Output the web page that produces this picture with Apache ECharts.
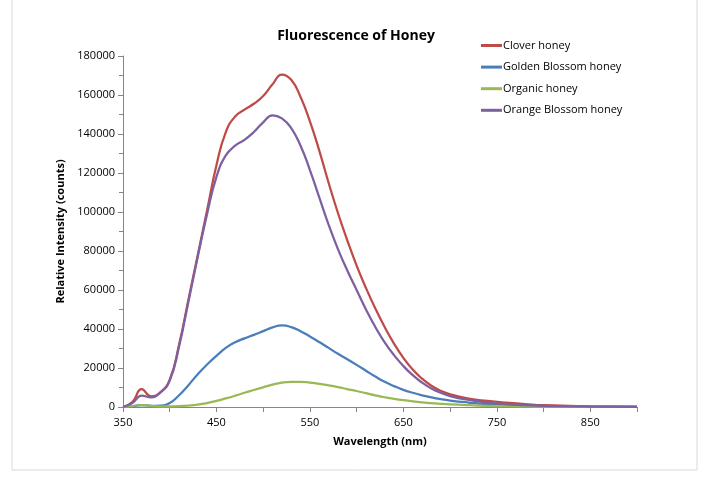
<!DOCTYPE html>
<html>
<head>
<meta charset="utf-8">
<script src="https://cdn.jsdelivr.net/npm/echarts@6/dist/echarts.min.js"></script>
<style>html,body{margin:0;padding:0;background:#fff;}#c{width:709px;height:478px;}</style>
</head>
<body>
<div id="c"></div>
<script>
const seriesNames = ['Clover honey', 'Golden Blossom honey', 'Organic honey', 'Orange Blossom honey'];
const seriesColors = ['#BE4B48', '#4A7EBB', '#98B954', '#7D60A0'];

const wavelengths = [350,360,370,380,390,400,410,420,430,440,450,460,470,480,490,500,510,520,530,540,550,560,570,580,590,600,610,620,630,640,650,660,670,680,690,700,720,740,760,780,800,850,900];
const clover  = [0,2500,9200,5500,7500,14000,32000,55000,78000,101000,124000,141000,149000,152500,155500,159500,165500,170500,167800,159000,146500,131500,115000,99500,85500,72500,61000,50500,41000,32500,25200,19200,14500,10900,8300,6500,4300,3100,2200,1500,900,400,200];
const golden  = [0,300,1000,600,700,2000,6000,11200,16800,21800,26200,30300,33200,35200,37000,38900,40800,41800,41000,38900,36200,33300,30300,27300,24500,21600,18600,15600,12900,10700,8800,7300,6000,4900,4000,3300,2300,1500,1000,700,500,250,100];
const organic = [0,500,1000,600,300,300,400,700,1200,2000,3100,4400,5800,7300,8700,10100,11500,12500,12900,12900,12500,11900,11100,10200,9200,8200,7100,6000,5000,4200,3500,2900,2400,2000,1600,1300,900,600,400,300,200,100,50];
const orange  = [0,2000,5800,5000,7500,13500,31000,54000,77000,99000,118000,129000,134000,137000,141000,146000,149600,148000,143000,134000,121500,107500,93500,81000,70000,60000,50000,41000,33200,26600,21000,16300,12500,9500,7300,5600,3600,2300,1500,1000,600,250,100];
const seriesValues = [clover, golden, organic, orange];

const font = '"Open Sans", "Liberation Sans", sans-serif';
const chart = echarts.init(document.getElementById('c'));
chart.setOption({
  animation: false,
  backgroundColor: '#fff',
  title: {
    text: 'Fluorescence of Honey', left: 351, top: 24, textAlign: 'center',
    textStyle: { fontFamily: font, fontSize: 14, fontWeight: 'bold', color: '#000' }
  },
  graphic: [{
    type: 'rect', shape: { x: 12, y: -5, width: 685, height: 475 },
    style: { fill: 'none', stroke: '#d9d9d9', lineWidth: 1 }, silent: true
  }],
  legend: {
    orient: 'vertical', left: 476, top: 33, itemWidth: 21, itemHeight: 3, itemGap: 6.6,
    icon: 'rect',
    textStyle: { fontFamily: font, fontSize: 11, color: '#000', padding: [0, 0, 0, -4], lineHeight: 15 },
    data: seriesNames
  },
  grid: { left: 123, right: 72, top: 56, bottom: 71 },
  xAxis: {
    type: 'value', min: 350, max: 900, interval: 100,
    name: 'Wavelength (nm)', nameLocation: 'middle', nameGap: 29,
    nameTextStyle: { fontFamily: font, fontSize: 11, fontWeight: 'bold', color: '#000' },
    axisLine: { show: true, lineStyle: { color: '#868686' } },
    axisTick: { show: true, length: 5, lineStyle: { color: '#868686' } },
    minorTick: { show: true, splitNumber: 2, length: 5, lineStyle: { color: '#868686' } },
    splitLine: { show: false },
    axisLabel: { fontFamily: font, fontSize: 11, color: '#000', margin: 10, showMaxLabel: false }
  },
  yAxis: {
    type: 'value', min: 0, max: 180000, interval: 20000,
    name: 'Relative Intensity (counts)', nameLocation: 'middle', nameGap: 44, nameRotate: 90,
    nameTextStyle: { fontFamily: font, fontSize: 11, fontWeight: 'bold', color: '#000' },
    axisLine: { show: true, lineStyle: { color: '#868686' } },
    axisTick: { show: true, length: 5, lineStyle: { color: '#868686' } },
    minorTick: { show: true, splitNumber: 2, length: 4, lineStyle: { color: '#868686' } },
    splitLine: { show: false },
    axisLabel: { fontFamily: font, fontSize: 11, color: '#000', margin: 8, formatter: v => String(v) }
  },
  series: seriesNames.map((n, i) => ({
    name: n, type: 'line', data: wavelengths.map((w, j) => [w, seriesValues[i][j]]),
    smooth: 0.5, showSymbol: false,
    lineStyle: { width: 2.25, color: seriesColors[i] }, itemStyle: { color: seriesColors[i] }
  }))
});
</script>
</body>
</html>
